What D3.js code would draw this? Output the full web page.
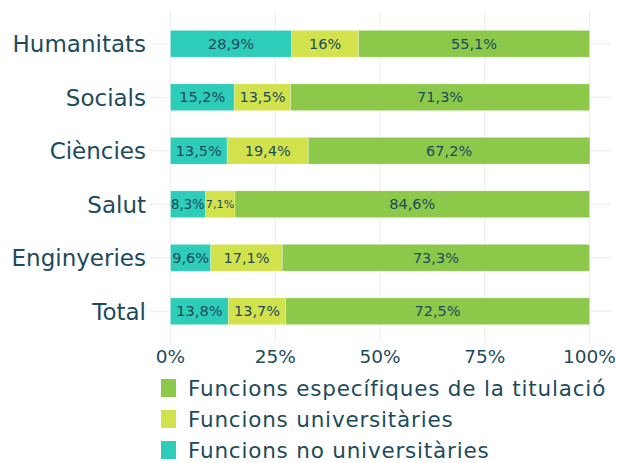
<!DOCTYPE html>
<html>
<head>
<meta charset="utf-8">
<script src="https://cdn.jsdelivr.net/npm/d3@7"></script>
<style>
  body { margin: 0; background: #fff; }
  text { font-family: "DejaVu Sans", sans-serif; fill: #1d4b5c; }
</style>
</head>
<body>
<div id="chart"></div>
<script>
var categories = ["Humanitats", "Socials", "Ciències", "Salut", "Enginyeries", "Total"];
var noUniv   = [28.9, 15.2, 13.5, 8.3, 9.6, 13.8];
var univ     = [16.0, 13.5, 19.4, 7.1, 17.1, 13.7];
var especif  = [55.1, 71.3, 67.2, 84.6, 73.3, 72.5];
var seriesNames = ["Funcions no universitàries", "Funcions universitàries", "Funcions específiques de la titulació"];
var seriesColors = ["#2ecdb9", "#d2e24c", "#8cc94b"];
var xTicks = [0, 25, 50, 75, 100];

var width = 617, height = 463;
var svg = d3.select("#chart").append("svg")
            .attr("width", width)
            .attr("height", height);

var x = d3.scaleLinear().domain([0, 100]).range([170.5, 589.5]);
var y = d3.scaleBand().domain(categories).range([17, 338]).paddingInner(0.5).paddingOuter(0.25);

// grid
svg.append("g").selectAll("line.v")
   .data(xTicks).enter().append("line")
   .attr("x1", function(d){ return x(d); }).attr("x2", function(d){ return x(d); })
   .attr("y1", 12).attr("y2", 342)
   .attr("stroke", "#ebebeb").attr("stroke-width", 1);

svg.append("g").selectAll("line.h")
   .data(categories).enter().append("line")
   .attr("x1", 150).attr("x2", 611)
   .attr("y1", function(d){ return y(d) + y.bandwidth()/2; })
   .attr("y2", function(d){ return y(d) + y.bandwidth()/2; })
   .attr("stroke", "#ebebeb").attr("stroke-width", 1);

// stacked data
var rows = categories.map(function(c, i){
  return { cat: c, s0: noUniv[i], s1: univ[i], s2: especif[i] };
});
var stack = d3.stack().keys(["s0", "s1", "s2"])(rows);

var layers = svg.append("g").selectAll("g.layer")
   .data(stack).enter().append("g")
   .attr("fill", function(d, i){ return seriesColors[i]; });

layers.selectAll("rect")
   .data(function(d){ return d; }).enter().append("rect")
   .attr("x", function(d){ return x(d[0]); })
   .attr("width", function(d){ return x(d[1]) - x(d[0]); })
   .attr("y", function(d){ return y(d.data.cat); })
   .attr("height", y.bandwidth())
   .attr("stroke", "#ffffff").attr("stroke-opacity", 0.4).attr("stroke-width", 0.6);

function fmt(v){ return (Math.round(v*10)/10).toString().replace(".", ","); }

layers.selectAll("text")
   .data(function(d){ return d; }).enter().append("text")
   .attr("x", function(d){ return (x(d[0]) + x(d[1])) / 2; })
   .attr("y", function(d){ return y(d.data.cat) + y.bandwidth()/2; })
   .attr("dy", "0.36em")
   .attr("text-anchor", "middle")
   .attr("font-size", 14.5)
   .text(function(d){ return fmt(d[1] - d[0]) + "%"; })
   .each(function(d){
     // shrink labels that don't fit their segment
     var avail = x(d[1]) - x(d[0]) - 1;
     var w = this.getComputedTextLength();
     if (w > avail) d3.select(this).attr("font-size", 14.5 * avail / w);
   });

// category labels
svg.append("g").selectAll("text")
   .data(categories).enter().append("text")
   .attr("x", 146)
   .attr("y", function(d){ return y(d) + y.bandwidth()/2; })
   .attr("dy", "0.36em")
   .attr("text-anchor", "end")
   .attr("font-size", 23)
   .text(function(d){ return d; });

// x tick labels
svg.append("g").selectAll("text")
   .data(xTicks).enter().append("text")
   .attr("x", function(d){ return x(d); })
   .attr("y", 356)
   .attr("dy", "0.36em")
   .attr("text-anchor", "middle")
   .attr("font-size", 18.5)
   .text(function(d){ return d + "%"; });

// legend (reverse order)
var legendOrder = [2, 1, 0];
var leg = svg.append("g").selectAll("g")
   .data(legendOrder).enter().append("g")
   .attr("transform", function(d, i){ return "translate(161," + (388 + i*31) + ")"; });

leg.append("rect")
   .attr("x", 0).attr("y", -9).attr("width", 15).attr("height", 18)
   .attr("fill", function(d){ return seriesColors[d]; });

leg.append("text")
   .attr("x", 27).attr("y", 0).attr("dy", "0.36em")
   .attr("font-size", 21.5)
   .attr("letter-spacing", 0.8)
   .text(function(d){ return seriesNames[d]; });
</script>
</body>
</html>
